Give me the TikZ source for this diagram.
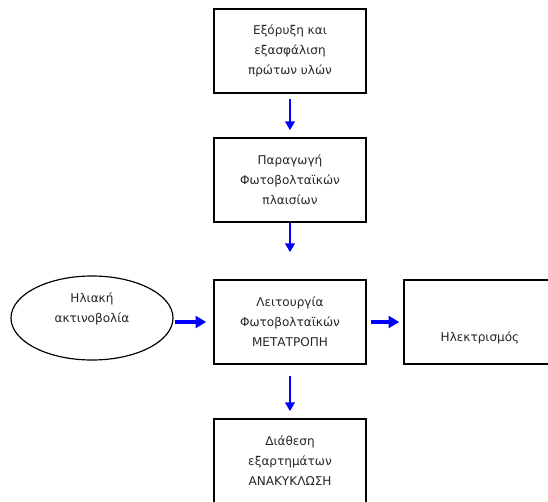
\documentclass[tikz,border=0pt]{standalone}
\usepackage{fontspec}
\setmainfont{DejaVu Sans}
\usetikzlibrary{shapes,arrows.meta,positioning}

\begin{document}
\begin{tikzpicture}[
    x=0.03cm, y=-0.03cm,
    stage/.style={rectangle, draw, line width=1.3pt, minimum width=4.56cm, minimum height=2.52cm, align=center, text=black!85, font=\fontsize{10.3}{17}\selectfont},
    source/.style={ellipse, draw, line width=1pt, minimum width=4.86cm, minimum height=2.52cm},
    txt/.style={align=center, text=black!85, font=\fontsize{10.3}{17}\selectfont},
    down/.style={-{Triangle[length=7.5pt,width=8pt]}, blue, line width=2pt},
    side/.style={-{Triangle[length=9pt,width=10pt]}, blue, line width=3.4pt}
]
\useasboundingbox (0,0) rectangle (548,502);

\node[stage] (mining) at (290,51) {Εξόρυξη και\\εξασφάλιση\\πρώτων υλών};
\node[stage] (production) at (290,180) {Παραγωγή\\Φωτοβολταϊκών\\πλαισίων};
\node[stage] (operation) at (290,322) {Λειτουργία\\Φωτοβολταϊκών\\ΜΕΤΑΤΡΟΠΗ};
\node[stage] (power) at (480,322) {};
\node[txt] (powerText) at ([yshift=-0.48cm]power.center) {Ηλεκτρισμός};
\node[stage] (recycling) at (290,461) {Διάθεση\\εξαρτημάτων\\ΑΝΑΚΥΚΛΩΣΗ};
\node[source] (sun) at (92,318) {};
\node[txt] (sunText) at ([yshift=0.27cm]sun.center) {Ηλιακή\\ακτινοβολία};

\draw[down, shorten <=0.15cm, shorten >=0.21cm] (mining) -- (production);
\draw[down, shorten >=0.81cm] (production) -- (operation);
\draw[down, shorten <=0.33cm, shorten >=0.21cm] (operation) -- (recycling);
\draw[side, shorten <=0.03cm, shorten >=0.21cm] (sun.east |- operation) -- (operation);
\draw[side, shorten <=0.12cm, shorten >=0.12cm] (operation) -- (power);

\end{tikzpicture}
\end{document}
